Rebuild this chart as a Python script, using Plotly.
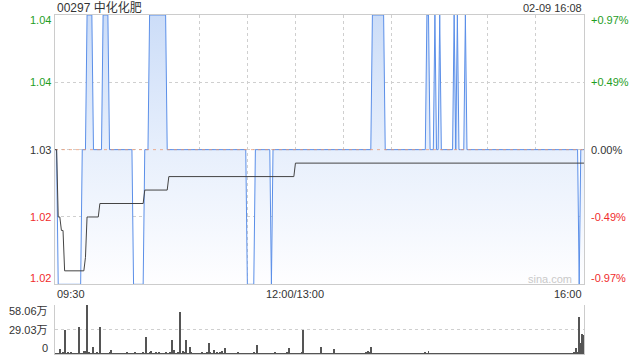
import plotly.graph_objects as go

# ---------------- data ----------------
title_text = "00297 中化化肥"
stamp_text = "02-09 16:08"
prev_close = 1.03

# price per minute as runs of (price, number of minutes), 09:30 .. 16:00 (331 points)
price_runs = [
    (1.03, 2), (1.02, 15), (1.03, 3), (1.04, 4), (1.03, 6),
    (1.04, 4), (1.03, 15), (1.02, 7), (1.03, 3), (1.04, 1),
    (1.04, 10), (1.03, 20),
    (1.03, 30),
    (1.02, 5), (1.03, 10), (1.02, 1), (1.03, 14),
    (1.03, 30),
    (1.03, 18), (1.04, 8), (1.03, 4),
    (1.03, 22), (1.04, 2), (1.03, 3), (1.04, 1), (1.03, 2),
    (1.04, 1), (1.03, 8), (1.04, 1), (1.03, 1), (1.04, 1), (1.03, 4), (1.04, 1), (1.03, 13),
    (1.03, 30),
    (1.03, 27), (1.02, 1), (1.03, 3),
]
# average price line as runs
avg_runs = [
    (1.03, 2), (1.025, 2), (1.024, 2), (1.021, 13), (1.022, 1),
    (1.025, 8), (1.026, 28), (1.027, 15), (1.028, 79), (1.029, 181),
]
# volume per minute (万)
vol_0930 = [0.8, 0.6, 1.0, 6, 0.8, 1.2, 28, 0.8, 2, 0.6, 1.5, 0.8, 0.6, 1.0, 0.8,
            32, 0.8, 1.0, 3, 3.5, 58.06, 1.2, 0.8, 0.6, 8, 0.8, 2, 0.6, 32, 1.0]
vol_1000 = [0.8, 1.0, 0.6, 0.8, 1.2, 5, 0.8, 0.6, 1.0, 0.8, 0.6, 0.8, 1.0, 0.6, 0.8,
            1.2, 0.8, 0.6, 1.0, 0.8, 1.2, 0.8, 0.6, 1.0, 0.8, 1.5, 1.0, 20.5, 0.8, 1.2]
vol_1030 = [3.5, 0.8, 1.0, 2, 0.8, 1.2, 0.6, 1.0, 0.8, 1.5, 0.8, 1.0, 1.2, 17, 5,
            0.8, 1.0, 1.5, 50, 1.0, 4, 1.2, 16.6, 1.0, 8.7, 1.2, 0.8, 1.0, 0.6, 0.8]
vol_1100 = [1.0, 0.8, 1.5, 0.8, 1.0, 2.0, 12.6, 1.2, 0.8, 5, 1.0, 1.5, 0.8, 1.2, 4,
            1.0, 7.5, 0.8, 1.0, 0.6, 0.8, 1.0, 0.6, 0.8, 1.2, 0.8, 0.6, 1.0, 0.8, 0.6]
vol_1130 = [0.8, 0.6, 1.0, 0.8, 1.2, 0.8, 10.7, 1.0, 0.8, 0.6, 1.0, 0.8, 0.6, 0.8, 1.0,
            0.6, 0.8, 2, 0.8, 0.6, 1.0, 0.8, 0.6, 1.0, 0.8, 1.2, 7.5, 0.8, 0.6, 1.0]
vol_1300 = [1.0, 0.8, 0.6, 1.0, 1.2, 28.8, 1.0, 0.8, 0.6, 1.0, 0.8, 0.6, 0.8, 1.0, 0.6,
            0.8, 8.7, 0.8, 0.6, 1.0, 0.8, 0.6, 0.8, 1.0, 6.3, 0.8, 0.6, 1.0, 0.8, 0.6]
vol_1330 = [0.8, 0.6, 1.0, 0.8, 0.6, 0.8, 1.0, 0.6, 0.8, 0.6, 1.0, 0.8, 0.6, 0.8, 1.5,
            3, 1.2, 8.3, 0.8, 0.6, 1.0, 0.8, 0.6, 1.0, 0.8, 0.6, 0.8, 1.0, 0.6, 0.8]
vol_1400 = [0.6, 0.8, 1.0, 0.6, 0.8, 0.6, 1.0, 0.8, 0.6, 0.8, 1.0, 0.6, 0.8, 0.6, 1.0,
            0.8, 0.6, 0.8, 1.0, 0.6, 0.8, 1.2, 1.0, 3, 0.8, 0.6, 1.0, 0.8, 0.6, 0.8]
vol_1430 = [0.8, 1.0, 0.6, 0.8, 0.6, 1.0, 0.8, 0.6, 0.8, 1.0, 0.6, 0.8, 0.6, 1.0, 0.8,
            0.6, 0.8, 1.0, 0.6, 0.8, 0.6, 1.0, 0.8, 0.6, 0.8, 1.0, 0.6, 0.8, 0.6, 1.0]
vol_1500 = [0.6, 0.8, 1.0, 0.6, 0.8, 0.6, 1.0, 0.8, 0.6, 0.8, 1.0, 0.6, 0.8, 0.6, 1.0,
            0.8, 0.6, 0.8, 1.0, 0.6, 0.8, 0.6, 1.0, 0.8, 0.6, 0.8, 1.0, 0.6, 0.8, 0.6]
vol_1530 = [0.8, 1.0, 0.6, 0.8, 0.6, 1.0, 0.8, 0.6, 0.8, 1.0, 0.6, 0.8, 0.6, 1.0, 0.8,
            0.6, 0.8, 1.0, 0.6, 0.8, 0.6, 1.0, 0.8, 0.6, 1.2, 7, 1.5, 44, 13.4, 23.7, 22.5]

price_ticks = [1.02, 1.025, 1.03, 1.035, 1.04]
price_labels = ["1.02", "1.02", "1.03", "1.04", "1.04"]
pct_labels = ["-0.97%", "-0.49%", "0.00%", "+0.49%", "+0.97%"]
vol_ticks = [0, 29.03, 58.06]
vol_labels = ["0", "29.03万", "58.06万"]
time_ticks = [0, 150, 330]
time_labels = ["09:30", "12:00/13:00", "16:00"]

# ---------------- build series ----------------
price = [v for v, n in price_runs for _ in range(n)]
avg = [v for v, n in avg_runs for _ in range(n)]
volume = (vol_0930 + vol_1000 + vol_1030 + vol_1100 + vol_1130 + vol_1300 +
          vol_1330 + vol_1400 + vol_1430 + vol_1500 + vol_1530)
minutes = list(range(len(price)))

# ---------------- layout geometry ----------------
W, H = 640, 360
PX_L, PX_R = 55, 584
PY_T, PY_B = 15, 284.3
VY_T, VY_B = 305, 354


def fx(px):
    return px / W


def fy(py):
    return 1 - py / H


FONT = "Liberation Sans, Arial, Noto Sans CJK SC, sans-serif"
GREEN = "#1f9e1f"
RED = "#f02c2c"
DARK = "#333333"
GRID = "#cfcfcf"
FRAME = "#cccccc"

fig = go.Figure()

fig.add_trace(go.Scatter(
    x=minutes, y=price, mode="lines",
    line=dict(color="#5b8fe8", width=1),
    fill="tozeroy",
    fillgradient=dict(type="vertical", start=1.02, stop=1.04,
                      colorscale=[[0, "rgb(254,254,255)"],
                                  [0.5, "rgb(231,239,252)"],
                                  [1, "rgb(204,221,248)"]]),
    hoverinfo="skip", xaxis="x", yaxis="y"))

fig.add_trace(go.Scatter(
    x=[minutes[0], minutes[-1]], y=[prev_close, prev_close], mode="lines",
    line=dict(color="rgba(236,150,110,0.75)", width=1, dash="3px,4px"),
    hoverinfo="skip", xaxis="x", yaxis="y"))

fig.add_trace(go.Scatter(
    x=minutes, y=avg, mode="lines",
    line=dict(color="#444444", width=1),
    hoverinfo="skip", xaxis="x", yaxis="y"))

fig.add_trace(go.Bar(
    x=minutes, y=volume, width=0.62,
    marker=dict(color="#555555", line=dict(width=0)),
    hoverinfo="skip", xaxis="x2", yaxis="y2"))

ann = []
ann.append(dict(text=title_text, x=fx(PX_L), y=fy(7.5), xref="paper", yref="paper",
                xanchor="left", yanchor="middle", showarrow=False,
                font=dict(size=12, color=DARK, family=FONT)))
ann.append(dict(text=stamp_text, x=fx(PX_R), y=fy(7.5), xref="paper", yref="paper",
                xanchor="right", yanchor="middle", showarrow=False,
                font=dict(size=11, color=DARK, family=FONT)))

for i, (v, lab, pct) in enumerate(zip(price_ticks, price_labels, pct_labels)):
    col = GREEN if v > prev_close else (RED if v < prev_close else DARK)
    shift = 0
    if i == 0:
        shift = 6
    elif i == len(price_ticks) - 1:
        shift = -5
    ann.append(dict(text=lab, x=fx(PX_L - 2), y=v, xref="paper", yref="y",
                    xanchor="right", yanchor="middle", yshift=shift, showarrow=False,
                    font=dict(size=11, color=col, family=FONT)))
    ann.append(dict(text=pct, x=fx(PX_R + 5), y=v, xref="paper", yref="y",
                    xanchor="left", yanchor="middle", yshift=shift, showarrow=False,
                    font=dict(size=11, color=col, family=FONT)))

anchors = ["left", "center", "right"]
for t, lab, a in zip(time_ticks, time_labels, anchors):
    ann.append(dict(text=lab, x=t, y=fy(293.5), xref="x", yref="paper",
                    xanchor=a, yanchor="middle", showarrow=False,
                    font=dict(size=11, color=DARK, family=FONT)))

for i, (v, lab) in enumerate(zip(vol_ticks, vol_labels)):
    shift = 0
    if i == 0:
        shift = 6
    elif i == len(vol_ticks) - 1:
        shift = -6
    ann.append(dict(text=lab, x=fx(PX_L - 5), y=v, xref="paper", yref="y2",
                    xanchor="right", yanchor="middle", yshift=shift, showarrow=False,
                    font=dict(size=11, color=DARK, family=FONT)))

ann.append(dict(text="sina.com", x=fx(574), y=fy(278.5), xref="paper", yref="paper",
                xanchor="right", yanchor="middle", showarrow=False,
                font=dict(size=11, color="#c9c9c9", family=FONT)))

fig.update_layout(
    width=W, height=H, margin=dict(l=0, r=0, t=0, b=0),
    paper_bgcolor="white", plot_bgcolor="white",
    showlegend=False, hovermode=False, bargap=0,
    annotations=ann,
    xaxis=dict(domain=[fx(PX_L), fx(PX_R)], range=[0, 330], anchor="y",
               tick0=0, dtick=30, showgrid=True, gridcolor=GRID, griddash="dot",
               gridwidth=1, showticklabels=False, ticks="", zeroline=False,
               showline=True, mirror=True, linecolor=FRAME, linewidth=1),
    yaxis=dict(domain=[fy(PY_B), fy(PY_T)], range=[1.02, 1.04], anchor="x",
               tickvals=price_ticks, showgrid=True, gridcolor=GRID, griddash="dot",
               showticklabels=False, ticks="", zeroline=False,
               showline=True, mirror=True, linecolor=FRAME, linewidth=1),
    xaxis2=dict(domain=[fx(PX_L), fx(PX_R)], range=[0, 330], anchor="y2",
                showgrid=False, showticklabels=False, ticks="", zeroline=False,
                showline=True, linecolor=FRAME, linewidth=1),
    yaxis2=dict(domain=[fy(VY_B), fy(VY_T)], range=[0, 58.06], anchor="x2",
                tickvals=vol_ticks, showgrid=True, gridcolor=GRID, griddash="dot",
                showticklabels=False, ticks="", zeroline=False,
                showline=True, mirror=True, linecolor=FRAME, linewidth=1),
)

fig.write_html("out.html")
